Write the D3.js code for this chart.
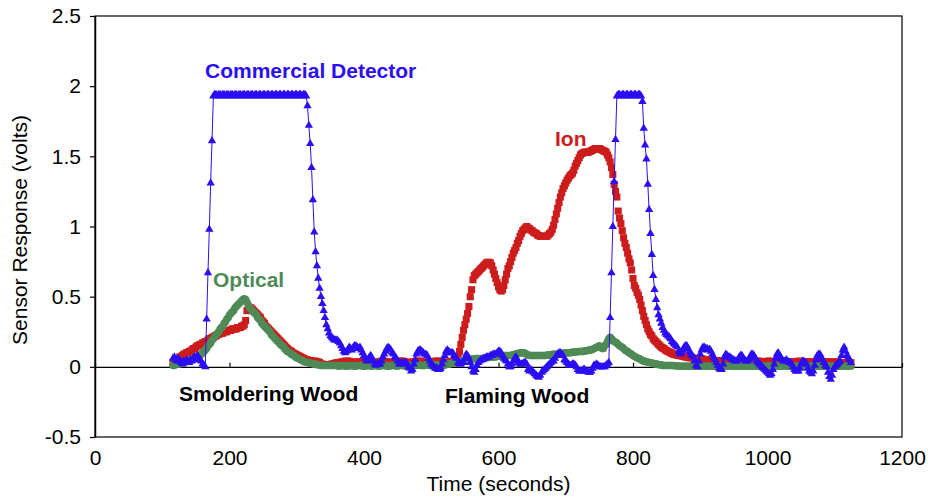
<!DOCTYPE html>
<html>
<head>
<meta charset="utf-8">
<script src="https://cdn.jsdelivr.net/npm/d3@7"></script>
<style>
  body { margin: 0; background: #fff; }
  svg text { font-family: "Liberation Sans", Arial, sans-serif; }
</style>
</head>
<body>
<svg id="chart" width="928" height="500"></svg>
<script>
// sample clock of the logger: one reading every 2 s, from 116 s to 1124 s
var times = d3.range(116, 1126, 2);

// Ion sensor (volts), one row = 20 s
var ion = [
  0.03,0.04,0.05,0.05,0.06,0.07,0.07,0.08,0.09,0.09,
  0.10,0.10,0.11,0.11,0.12,0.13,0.13,0.14,0.15,0.15,
  0.16,0.16,0.17,0.17,0.18,0.18,0.19,0.20,0.20,0.21,
  0.21,0.22,0.22,0.23,0.23,0.24,0.24,0.24,0.25,0.25,
  0.25,0.26,0.26,0.26,0.27,0.27,0.27,0.27,0.28,0.28,
  0.28,0.29,0.29,0.30,0.33,0.40,0.42,0.42,0.42,0.41,
  0.40,0.39,0.38,0.37,0.36,0.35,0.33,0.32,0.31,0.29,
  0.28,0.27,0.26,0.25,0.24,0.23,0.22,0.21,0.20,0.19,
  0.18,0.17,0.16,0.15,0.14,0.13,0.12,0.115,0.11,0.10,
  0.095,0.09,0.085,0.08,0.075,0.07,0.065,0.06,0.055,0.05,
  0.05,0.045,0.045,0.04,0.04,0.04,0.04,0.035,0.035,0.03,
  0.02,0.02,0.015,0.015,0.01,0.01,0.015,0.015,0.02,0.02,
  0.025,0.025,0.03,0.03,0.03,0.035,0.035,0.035,0.04,0.04,
  0.04,0.04,0.035,0.035,0.035,0.03,0.03,0.03,0.035,0.035,
  0.035,0.04,0.04,0.04,0.035,0.035,0.03,0.03,0.03,0.03,
  0.03,0.03,0.035,0.035,0.035,0.04,0.04,0.04,0.035,0.035,
  0.035,0.03,0.03,0.03,0.03,0.035,0.035,0.035,0.04,0.04,
  0.04,0.04,0.035,0.035,0.03,0.03,0.03,0.03,0.035,0.035,
  0.035,0.04,0.04,0.04,0.04,0.035,0.035,0.03,0.03,0.03,
  0.03,0.03,0.035,0.035,0.035,0.04,0.04,0.04,0.04,0.035,
  0.035,0.03,0.03,0.03,0.03,0.035,0.035,0.035,0.03,0.03,
  0.03,0.04,0.07,0.11,0.16,0.21,0.26,0.30,0.34,0.38,
  0.43,0.50,0.55,0.62,0.65,0.66,0.67,0.68,0.69,0.70,
  0.71,0.72,0.73,0.74,0.745,0.745,0.74,0.72,0.69,0.66,
  0.63,0.60,0.57,0.55,0.54,0.55,0.58,0.62,0.66,0.70,
  0.72,0.75,0.78,0.81,0.83,0.85,0.88,0.90,0.93,0.95,
  0.97,0.98,0.99,1.00,0.99,0.985,0.975,0.97,0.96,0.955,
  0.95,0.94,0.935,0.93,0.93,0.93,0.93,0.93,0.93,0.94,
  0.95,0.96,0.98,1.01,1.05,1.09,1.13,1.17,1.21,1.24,
  1.27,1.29,1.31,1.33,1.345,1.36,1.37,1.38,1.40,1.43,
  1.45,1.47,1.49,1.51,1.52,1.525,1.53,1.53,1.53,1.53,
  1.535,1.54,1.545,1.55,1.555,1.555,1.555,1.555,1.55,1.545,
  1.54,1.535,1.53,1.51,1.49,1.46,1.42,1.37,1.30,1.25,
  1.21,1.11,1.06,1.02,0.97,0.92,0.88,0.85,0.81,0.77,
  0.74,0.69,0.63,0.58,0.56,0.53,0.51,0.48,0.44,0.40,
  0.36,0.33,0.30,0.27,0.25,0.23,0.22,0.20,0.19,0.18,
  0.17,0.16,0.15,0.14,0.135,0.13,0.12,0.115,0.11,0.105,
  0.10,0.095,0.09,0.09,0.085,0.085,0.08,0.08,0.08,0.075,
  0.075,0.07,0.07,0.07,0.065,0.065,0.065,0.06,0.06,0.06,
  0.06,0.055,0.055,0.055,0.055,0.05,0.05,0.05,0.05,0.05,
  0.05,0.05,0.045,0.045,0.045,0.045,0.045,0.045,0.045,0.045,
  0.045,0.045,0.04,0.04,0.04,0.04,0.04,0.04,0.04,0.04,
  0.04,0.04,0.04,0.04,0.04,0.04,0.04,0.04,0.04,0.04,
  0.04,0.04,0.04,0.04,0.04,0.04,0.04,0.035,0.035,0.035,
  0.035,0.035,0.04,0.04,0.04,0.035,0.035,0.035,0.035,0.035,
  0.035,0.035,0.035,0.04,0.04,0.04,0.035,0.035,0.035,0.035,
  0.035,0.035,0.035,0.035,0.035,0.04,0.04,0.035,0.035,0.035,
  0.035,0.035,0.035,0.035,0.035,0.035,0.035,0.035,0.035,0.035,
  0.035,0.035,0.03,0.03,0.035,0.035,0.035,0.035,0.035,0.035,
  0.035,0.035,0.035,0.035,0.03,0.03,0.03,0.03,0.03,0.03,
  0.03,0.03,0.03,0.03,0.03
];

// Optical sensor (volts)
var optical = [
  0.01,0.01,0.02,0.02,0.02,0.02,0.03,0.03,0.03,0.03,
  0.04,0.04,0.04,0.05,0.05,0.06,0.06,0.07,0.07,0.08,
  0.08,0.09,0.10,0.11,0.12,0.13,0.15,0.16,0.17,0.19,
  0.20,0.21,0.23,0.24,0.25,0.27,0.28,0.29,0.31,0.32,
  0.34,0.35,0.37,0.38,0.39,0.40,0.42,0.43,0.44,0.45,
  0.46,0.47,0.48,0.485,0.48,0.46,0.44,0.42,0.41,0.40,
  0.39,0.38,0.37,0.35,0.34,0.33,0.31,0.30,0.29,0.28,
  0.27,0.26,0.25,0.23,0.22,0.21,0.20,0.19,0.18,0.17,
  0.16,0.15,0.145,0.13,0.12,0.11,0.105,0.10,0.09,0.085,
  0.08,0.07,0.065,0.06,0.055,0.05,0.045,0.04,0.035,0.035,
  0.03,0.03,0.025,0.025,0.02,0.02,0.02,0.015,0.015,0.015,
  0.01,0.01,0.01,0.01,0.01,0.01,0.01,0.01,0.01,0.01,
  0.01,0.01,0.01,0.005,0.005,0.01,0.01,0.01,0.005,0.005,
  0.005,0.01,0.01,0.01,0.005,0.005,0.005,0.01,0.01,0.01,
  0.01,0.005,0.005,0.005,0.01,0.01,0.01,0.005,0.005,0.01,
  0.01,0.01,0.005,0.005,0.005,0.01,0.01,0.01,0.01,0.005,
  0.005,0.005,0.01,0.01,0.01,0.01,0.005,0.005,0.01,0.01,
  0.01,0.01,0.01,0.005,0.005,0.01,0.01,0.01,0.01,0.01,
  0.01,0.01,0.015,0.015,0.01,0.01,0.01,0.01,0.015,0.015,
  0.015,0.01,0.01,0.01,0.015,0.015,0.015,0.01,0.01,0.01,
  0.01,0.01,0.015,0.015,0.02,0.02,0.02,0.025,0.025,0.03,
  0.03,0.035,0.035,0.04,0.04,0.04,0.045,0.045,0.05,0.05,
  0.05,0.05,0.055,0.055,0.055,0.06,0.06,0.06,0.06,0.06,
  0.06,0.06,0.065,0.065,0.065,0.07,0.07,0.07,0.07,0.07,
  0.07,0.075,0.075,0.075,0.08,0.08,0.08,0.08,0.08,0.08,
  0.08,0.08,0.085,0.085,0.09,0.09,0.095,0.095,0.10,0.10,
  0.10,0.10,0.095,0.09,0.085,0.08,0.08,0.08,0.08,0.08,
  0.08,0.08,0.08,0.08,0.08,0.08,0.08,0.08,0.085,0.085,
  0.085,0.085,0.09,0.09,0.09,0.09,0.09,0.095,0.095,0.095,
  0.095,0.10,0.10,0.10,0.10,0.10,0.10,0.105,0.105,0.105,
  0.105,0.11,0.11,0.11,0.11,0.11,0.115,0.115,0.115,0.12,
  0.12,0.12,0.125,0.13,0.135,0.14,0.145,0.15,0.14,0.13,
  0.13,0.15,0.16,0.18,0.20,0.21,0.20,0.19,0.18,0.175,
  0.17,0.16,0.15,0.145,0.14,0.13,0.12,0.115,0.11,0.10,
  0.095,0.09,0.08,0.075,0.07,0.065,0.06,0.057,0.05,0.045,
  0.04,0.04,0.035,0.035,0.03,0.03,0.025,0.025,0.02,0.02,
  0.02,0.015,0.015,0.015,0.01,0.01,0.01,0.01,0.01,0.01,
  0.01,0.01,0.01,0.008,0.008,0.008,0.005,0.005,0.005,0.005,
  0.005,0.005,0.005,0.005,0.005,0.005,0.005,0.005,0.005,0.005,
  0.005,0.005,0.005,0.005,0.005,0.005,0.005,0.005,0.005,0.005,
  0.005,0.005,0.005,0.005,0.005,0.005,0.005,0.005,0.005,0.005,
  0.005,0.005,0.005,0.005,0.005,0.005,0.005,0.005,0.005,0.005,
  0.005,0.005,0.005,0.005,0.005,0.005,0.005,0.005,0.005,0.005,
  0.005,0.005,0.005,0.005,0.005,0.005,0.005,0.005,0.005,0.005,
  0.005,0.005,0.005,0.005,0.005,0.005,0.005,0.005,0.005,0.005,
  0.005,0.005,0.005,0.005,0.005,0.005,0.005,0.005,0.005,0.005,
  0.005,0.005,0.005,0.005,0.005,0.005,0.005,0.005,0.005,0.005,
  0.005,0.005,0.005,0.005,0.005,0.005,0.005,0.005,0.005,0.005,
  0.005,0.005,0.005,0.005,0.005,0.005,0.005,0.005,0.005,0.005,
  0.005,0.005,0.005,0.005,0.005,0.005,0.005,0.005,0.005,0.005,
  0.005,0.005,0.005,0.005,0.005
];

// Commercial detector (volts), saturates near 1.93
var commercial = [
  0.06,0.07,0.05,0.04,0.06,0.04,0.03,0.02,0.04,0.03,
  0.05,0.04,0.03,0.05,0.04,0.06,0.07,0.05,0.08,0.07,
  0.05,0.04,0.02,0.01,0.00,0.34,0.67,0.98,1.31,1.61,
  1.93,1.94,1.94,1.93,1.94,1.94,1.93,1.94,1.94,1.93,
  1.94,1.94,1.93,1.94,1.94,1.93,1.94,1.94,1.93,1.94,
  1.94,1.93,1.94,1.94,1.93,1.94,1.94,1.93,1.94,1.94,
  1.93,1.94,1.94,1.93,1.94,1.94,1.93,1.94,1.94,1.93,
  1.94,1.94,1.93,1.94,1.94,1.93,1.94,1.94,1.93,1.94,
  1.94,1.93,1.94,1.94,1.93,1.94,1.94,1.93,1.94,1.94,
  1.93,1.94,1.94,1.93,1.94,1.94,1.93,1.94,1.94,1.93,
  1.86,1.72,1.59,1.42,1.19,0.96,0.82,0.72,0.63,0.56,
  0.50,0.45,0.40,0.35,0.30,0.27,0.24,0.22,0.21,0.20,
  0.19,0.19,0.19,0.18,0.17,0.15,0.13,0.11,0.10,0.11,
  0.12,0.14,0.13,0.12,0.14,0.15,0.15,0.14,0.13,0.14,
  0.12,0.10,0.08,0.06,0.04,0.05,0.07,0.08,0.06,0.04,
  0.02,0.01,0.02,0.02,0.02,0.04,0.07,0.09,0.11,0.13,
  0.14,0.13,0.12,0.10,0.09,0.07,0.06,0.04,0.02,0.02,
  0.03,0.02,0.03,0.03,0.02,0.00,-0.01,-0.03,-0.02,0.02,
  0.05,0.09,0.11,0.12,0.12,0.11,0.10,0.09,0.09,0.08,
  0.06,0.04,0.02,0.01,0.00,-0.01,-0.01,-0.02,-0.02,-0.01,
  0.02,0.05,0.08,0.11,0.12,0.11,0.10,0.10,0.10,0.08,
  0.07,0.06,0.03,0.02,0.02,0.03,0.03,0.06,0.09,0.08,
  0.06,0.03,0.00,-0.03,-0.04,-0.02,0.01,0.03,0.04,0.05,
  0.05,0.06,0.06,0.07,0.07,0.07,0.08,0.08,0.09,0.09,
  0.09,0.10,0.11,0.11,0.10,0.08,0.06,0.05,0.04,0.02,
  0.00,0.00,0.02,0.04,0.06,0.07,0.05,0.03,0.02,0.02,
  0.02,0.03,0.03,0.02,-0.02,-0.03,-0.02,-0.03,-0.04,-0.05,
  -0.06,-0.07,-0.075,-0.06,-0.04,-0.03,-0.02,-0.01,0.00,0.01,
  0.02,0.03,0.04,0.04,0.06,0.08,0.09,0.10,0.10,0.09,
  0.08,0.05,0.04,0.03,0.02,0.01,0.01,0.02,0.02,0.01,
  0.00,-0.02,-0.03,-0.03,-0.03,-0.02,-0.02,-0.03,-0.03,-0.04,
  -0.04,-0.03,-0.01,0.01,0.01,0.02,0.01,0.00,0.00,0.00,
  0.00,0.00,0.01,0.02,0.03,0.35,0.67,1.00,1.32,1.62,
  1.93,1.94,1.94,1.93,1.94,1.94,1.93,1.94,1.94,1.93,
  1.94,1.94,1.93,1.94,1.94,1.93,1.94,1.94,1.93,1.89,
  1.70,1.58,1.48,1.30,1.12,0.95,0.80,0.65,0.55,0.48,
  0.42,0.37,0.34,0.31,0.28,0.26,0.24,0.23,0.22,0.21,
  0.20,0.18,0.17,0.16,0.15,0.14,0.11,0.09,0.10,0.12,
  0.14,0.15,0.15,0.13,0.11,0.09,0.08,0.07,0.04,0.01,
  0.00,0.04,0.09,0.12,0.14,0.14,0.13,0.13,0.12,0.125,
  0.11,0.09,0.07,0.05,0.03,0.01,-0.01,-0.02,-0.02,0.02,
  0.07,0.09,0.08,0.07,0.07,0.06,0.05,0.05,0.04,0.04,
  0.05,0.07,0.08,0.08,0.06,0.05,0.04,0.04,0.05,0.07,
  0.09,0.09,0.08,0.06,0.04,0.03,0.02,0.01,0.00,-0.01,
  -0.02,-0.03,-0.04,-0.05,-0.06,-0.05,-0.02,0.02,0.06,0.09,
  0.10,0.08,0.06,0.05,0.04,0.04,0.05,0.04,0.03,0.03,
  0.02,0.00,-0.02,-0.03,-0.03,-0.03,-0.01,0.02,0.04,0.04,
  0.03,0.02,-0.01,-0.03,-0.04,-0.05,-0.03,0.01,0.05,0.08,
  0.09,0.09,0.07,0.05,0.03,0.01,0.00,-0.04,-0.07,-0.09,
  -0.06,-0.02,0.00,0.01,0.02,0.03,0.04,0.08,0.12,0.14,
  0.11,0.08,0.07,0.05,0.03
];

var xTicks = [0, 200, 400, 600, 800, 1000, 1200];
var yTicks = [-0.5, 0, 0.5, 1, 1.5, 2, 2.5];

var blueC = "#2b0ef2", redC = "#cc1c1c", greenC = "#4f8a56";

var svg = d3.select("#chart");
var plotL = 95, plotR = 902, plotT = 16, plotB = 437;

var x = d3.scaleLinear().domain([0, 1200]).range([plotL, plotR]);
var y = d3.scaleLinear().domain([-0.5, 2.5]).range([plotB, plotT]);

// plot frame
svg.append("rect")
  .attr("x", plotL).attr("y", plotT)
  .attr("width", plotR - plotL).attr("height", plotB - plotT)
  .attr("fill", "none").attr("stroke", "#000").attr("stroke-width", 1.2);

// y axis
var yAxis = svg.append("g")
  .attr("transform", "translate(" + plotL + ",0)")
  .call(d3.axisLeft(y).tickValues(yTicks).tickSize(5).tickSizeOuter(0)
    .tickPadding(9).tickFormat(function (d) { return String(d); }));
yAxis.select(".domain").attr("stroke-width", 1.5);
yAxis.selectAll(".tick line").attr("stroke-width", 1.2);

// zero line with small ticks pointing up
var zeroAxis = svg.append("g")
  .attr("transform", "translate(0," + y(0) + ")")
  .call(d3.axisBottom(x).tickValues(xTicks).tickSizeInner(-4).tickSizeOuter(0).tickFormat(""));
zeroAxis.select(".domain").attr("stroke-width", 1.2);
zeroAxis.selectAll(".tick line").attr("stroke-width", 1.2);

// x labels under the frame
var xAxis = svg.append("g")
  .attr("transform", "translate(0," + plotB + ")")
  .call(d3.axisBottom(x).tickValues(xTicks).tickSize(0).tickPadding(13)
    .tickFormat(function (d) { return String(d); }));
xAxis.select(".domain").remove();

svg.selectAll(".tick text")
  .attr("font-family", "'Liberation Sans', Arial, sans-serif")
  .attr("font-size", 21)
  .attr("fill", "#000");

// series
var points = times.map(function (t, i) {
  return { t: t, ion: ion[i], optical: optical[i], commercial: commercial[i] };
});

svg.append("g").selectAll("path")
  .data(points)
  .join("path")
  .attr("d", d3.symbol(d3.symbolSquare, 50))
  .attr("transform", function (d) { return "translate(" + x(d.t) + "," + y(d.ion) + ")"; })
  .attr("fill", redC);

svg.append("g").selectAll("path")
  .data(points)
  .join("path")
  .attr("d", d3.symbol(d3.symbolCircle, 44))
  .attr("transform", function (d) { return "translate(" + x(d.t) + "," + y(d.optical) + ")"; })
  .attr("fill", greenC);

svg.append("path")
  .datum(points)
  .attr("fill", "none")
  .attr("stroke", blueC)
  .attr("stroke-width", 1)
  .attr("d", d3.line().x(function (d) { return x(d.t); }).y(function (d) { return y(d.commercial); }));

svg.append("g").selectAll("path")
  .data(points)
  .join("path")
  .attr("d", d3.symbol(d3.symbolTriangle, 30))
  .attr("transform", function (d) { return "translate(" + x(d.t) + "," + y(d.commercial) + ")"; })
  .attr("fill", blueC);

// annotations
function label(txt, px, py, color) {
  svg.append("text")
    .attr("x", px).attr("y", py)
    .attr("font-size", 21).attr("font-weight", "bold")
    .attr("fill", color)
    .text(txt);
}
label("Commercial Detector", 205, 78, blueC);
label("Ion", 555, 146, redC);
label("Optical", 213, 287, greenC);
label("Smoldering Wood", 179, 401, "#000");
label("Flaming Wood", 445, 403, "#000");

// axis titles
svg.append("text")
  .attr("x", (plotL + plotR) / 2).attr("y", 491)
  .attr("text-anchor", "middle").attr("font-size", 21)
  .text("Time (seconds)");

svg.append("text")
  .attr("transform", "translate(27,230) rotate(-90)")
  .attr("text-anchor", "middle").attr("font-size", 21)
  .text("Sensor Response (volts)");
</script>
</body>
</html>
